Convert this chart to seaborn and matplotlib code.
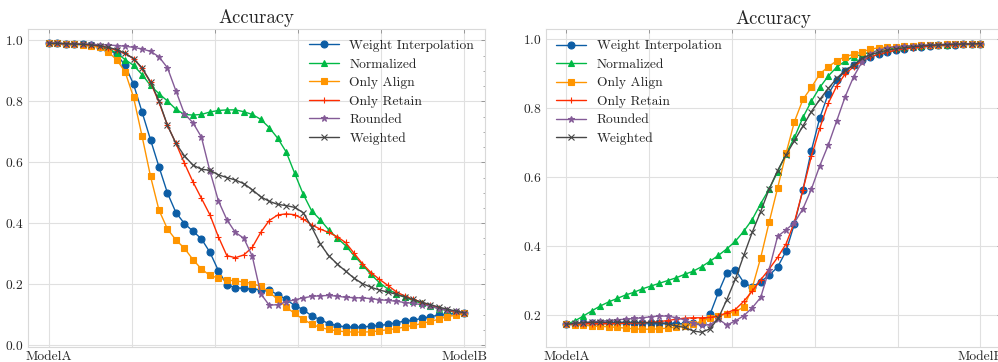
import numpy as np
import pandas as pd
import matplotlib
matplotlib.use("Agg")
import matplotlib.pyplot as plt
from matplotlib.ticker import AutoMinorLocator
import seaborn as sns

# interpolation steps between the two models
steps = np.linspace(0, 1, 50)
methods = ["Weight Interpolation", "Normalized", "Only Align", "Only Retain", "Rounded", "Weighted"]

# left panel: ModelA -> ModelB
left_interp = [0.990, 0.990, 0.989, 0.988, 0.987, 0.984, 0.979, 0.970, 0.955,
               0.918, 0.856, 0.765, 0.674, 0.585,
               0.499, 0.435, 0.399, 0.374, 0.349, 0.305, 0.245, 0.198, 0.189, 0.186, 0.184, 0.182, 0.180,
               0.166, 0.150, 0.130, 0.117, 0.096, 0.084, 0.071, 0.064, 0.060, 0.059, 0.060, 0.062, 0.065,
               0.068, 0.074, 0.079, 0.082, 0.088, 0.093, 0.099, 0.102, 0.104, 0.106]
left_norm = [0.990, 0.990, 0.989, 0.988, 0.987, 0.985, 0.981, 0.972, 0.959,
             0.937, 0.918, 0.888, 0.852, 0.825, 0.801, 0.774, 0.757, 0.755, 0.757, 0.765, 0.770, 0.772,
             0.772, 0.766, 0.757, 0.741, 0.714, 0.679, 0.634, 0.564,
             0.496, 0.441, 0.412, 0.379, 0.352, 0.327, 0.294, 0.264, 0.232, 0.205, 0.184, 0.168, 0.157,
             0.146, 0.137, 0.128, 0.120, 0.113, 0.108, 0.106]
left_align = [0.990, 0.990, 0.989, 0.988, 0.986, 0.982, 0.977, 0.962, 0.937,
              0.897, 0.813, 0.686, 0.554, 0.443,
              0.381, 0.345, 0.318, 0.281, 0.250, 0.229, 0.220, 0.215, 0.210, 0.208, 0.202, 0.193, 0.174,
              0.150, 0.125, 0.104, 0.085, 0.069, 0.058,
              0.052, 0.047, 0.044, 0.043, 0.043, 0.044, 0.047, 0.051, 0.054, 0.060, 0.065, 0.071, 0.078,
              0.085, 0.094, 0.098, 0.104]
left_retain = [0.990, 0.990, 0.989, 0.988, 0.987, 0.985, 0.982, 0.976, 0.968,
               0.957, 0.940, 0.908, 0.862, 0.797, 0.721, 0.662,
               0.597, 0.536, 0.482, 0.428, 0.356, 0.294, 0.287, 0.296, 0.321, 0.370, 0.409, 0.427, 0.431,
               0.428, 0.414,
               0.395, 0.381, 0.370, 0.356, 0.337, 0.302, 0.267, 0.238, 0.216, 0.196, 0.175, 0.161, 0.150,
               0.140, 0.131, 0.122, 0.115, 0.109, 0.106]
left_round = [0.990, 0.990, 0.989, 0.989, 0.988, 0.987, 0.986, 0.985, 0.983,
              0.981, 0.977, 0.972, 0.964, 0.946, 0.910, 0.834, 0.759, 0.730, 0.683, 0.572,
              0.474, 0.412, 0.370, 0.351, 0.292, 0.169, 0.131, 0.133, 0.142, 0.149, 0.155, 0.160, 0.162,
              0.163, 0.161, 0.157,
              0.156, 0.155, 0.153, 0.149, 0.147, 0.144, 0.140, 0.137, 0.133, 0.128, 0.120, 0.115, 0.112, 0.106]
left_weighted = [0.990, 0.990, 0.989, 0.988, 0.987, 0.985, 0.982, 0.977, 0.970,
                 0.958, 0.940, 0.910, 0.864, 0.801, 0.721, 0.662,
                 0.621, 0.591, 0.577, 0.574, 0.559, 0.550, 0.542, 0.530, 0.510, 0.487, 0.472, 0.462, 0.458,
                 0.452, 0.435,
                 0.388, 0.333, 0.294, 0.267, 0.243, 0.220, 0.202, 0.190, 0.181, 0.174, 0.167, 0.158, 0.150,
                 0.141, 0.133, 0.125, 0.118, 0.112, 0.106]

# right panel: ModelA -> ModelB (other direction)
right_interp = [0.173, 0.175, 0.177, 0.178, 0.178, 0.178, 0.178, 0.178, 0.178, 0.177, 0.177, 0.176, 0.176,
                0.175, 0.175, 0.176, 0.178,
                0.202, 0.266, 0.323, 0.332, 0.294, 0.281, 0.297, 0.315, 0.339, 0.385, 0.465, 0.563,
                0.677, 0.772, 0.841, 0.881, 0.907, 0.925, 0.939, 0.949, 0.956, 0.962, 0.968, 0.972, 0.976,
                0.978, 0.980, 0.982, 0.983, 0.984, 0.985, 0.986, 0.987]
right_norm = [0.173, 0.183, 0.197, 0.212, 0.226, 0.238, 0.248, 0.258, 0.266, 0.276, 0.284, 0.292, 0.300,
              0.308, 0.318, 0.327, 0.340, 0.356, 0.373, 0.392, 0.414, 0.443, 0.477, 0.523, 0.565,
              0.615, 0.667, 0.715, 0.773, 0.820, 0.860, 0.893, 0.919, 0.936, 0.949, 0.956, 0.962, 0.967,
              0.971, 0.974, 0.977, 0.979, 0.981, 0.982, 0.983, 0.984, 0.985, 0.986, 0.986, 0.987]
right_align = [0.173, 0.172, 0.171, 0.168, 0.167, 0.166, 0.164, 0.162, 0.160, 0.159, 0.159, 0.160, 0.162,
               0.165, 0.169, 0.174, 0.182, 0.190, 0.197, 0.204, 0.210, 0.223,
               0.279, 0.366, 0.469, 0.568, 0.669, 0.761, 0.825, 0.860, 0.899, 0.920, 0.937, 0.949, 0.956,
               0.963, 0.971, 0.975, 0.977, 0.978, 0.980, 0.981, 0.982, 0.983, 0.984, 0.985, 0.986, 0.986,
               0.987, 0.987]
right_retain = [0.173, 0.174, 0.175, 0.175, 0.175, 0.175, 0.176, 0.176, 0.177, 0.178, 0.179, 0.181, 0.184,
                0.188, 0.191, 0.192, 0.192, 0.193, 0.197, 0.207, 0.216, 0.240,
                0.269, 0.302, 0.333, 0.367, 0.406, 0.470, 0.563, 0.660, 0.742, 0.814, 0.864, 0.899, 0.920,
                0.937, 0.949, 0.956, 0.962, 0.968, 0.972, 0.975, 0.978, 0.980, 0.982, 0.983, 0.984, 0.985,
                0.986, 0.987]
right_round = [0.173, 0.176, 0.178, 0.180, 0.182, 0.184, 0.186, 0.188, 0.190, 0.192, 0.195, 0.197, 0.197,
               0.192, 0.186, 0.176, 0.170, 0.172, 0.188, 0.171, 0.183, 0.198, 0.221, 0.251,
               0.332, 0.428, 0.447, 0.468, 0.508, 0.565, 0.633, 0.693, 0.763, 0.833, 0.891, 0.934, 0.958,
               0.968, 0.975, 0.978, 0.980, 0.981, 0.982, 0.983, 0.984, 0.985, 0.986, 0.986, 0.987, 0.987]
right_weighted = [0.173, 0.176, 0.178, 0.179, 0.179, 0.179, 0.179, 0.179, 0.179, 0.178, 0.178, 0.177, 0.174,
                  0.168, 0.164, 0.154, 0.150, 0.160,
                  0.191, 0.245, 0.304, 0.373, 0.440, 0.500, 0.565, 0.619, 0.664, 0.706, 0.748, 0.790, 0.825,
                  0.857, 0.886, 0.910, 0.925, 0.945, 0.955, 0.962, 0.968, 0.972, 0.975, 0.978, 0.980, 0.982,
                  0.983, 0.984, 0.985, 0.986, 0.986, 0.987]

colors = ["#0C5DA5", "#00B945", "#FF9500", "#FF2C00", "#845B97", "#474747"]
markers = ["o", "^", "s", "+", "*", "x"]
tick_labels = ["ModelA", "", "", "", "", "ModelB"]

sns.set_style("whitegrid")
plt.rcParams["font.family"] = ["cmr10", "DejaVu Serif"]
plt.rcParams["mathtext.fontset"] = "cm"
plt.rcParams["axes.formatter.use_mathtext"] = True
plt.rcParams["axes.unicode_minus"] = False

fig = plt.figure(figsize=(9.98, 3.62), dpi=100)
ax_left = fig.add_axes([28 / 998, 15.5 / 362, 457 / 998, 317.5 / 362])
ax_right = fig.add_axes([545.7 / 998, 15.3 / 362, 455.3 / 998, 317.5 / 362])

panels = [
    (ax_left, [left_interp, left_norm, left_align, left_retain, left_round, left_weighted], "upper right"),
    (ax_right, [right_interp, right_norm, right_align, right_retain, right_round, right_weighted], "upper left"),
]

for ax, series, loc in panels:
    for name, vals, c, m in zip(methods, series, colors, markers):
        sns.lineplot(x=steps, y=vals, ax=ax, label=name, color=c, marker=m,
                     markersize=5 if m not in ("+", "x", "*") else 4.5,
                     markeredgecolor=c, markeredgewidth=0.8, linewidth=1.0)
    ax.set_title("Accuracy", fontsize=13.5, color=".15", pad=4)
    ax.set_xticks(np.linspace(0, 1, 6))
    ax.set_xticklabels(tick_labels)
    ax.yaxis.set_minor_locator(AutoMinorLocator(4))
    ax.tick_params(axis="both", which="both", direction="in", top=True, right=True,
                   colors=".55", labelcolor=".15", labelsize=9.7, pad=3)
    ax.tick_params(which="major", length=3, width=0.6)
    ax.tick_params(which="minor", length=1.8, width=0.5)
    ax.grid(True, color=".88", linewidth=0.8)
    for sp in ax.spines.values():
        sp.set_color(".85")
        sp.set_linewidth(0.8)
    ax.set_xlabel("")
    ax.set_ylabel("")
    ax.legend(loc=loc, frameon=False, fontsize=9.7, handlelength=2.2, labelspacing=0.45,
              borderaxespad=0.4, labelcolor=".15")

fig.savefig("out.png", dpi=100)
